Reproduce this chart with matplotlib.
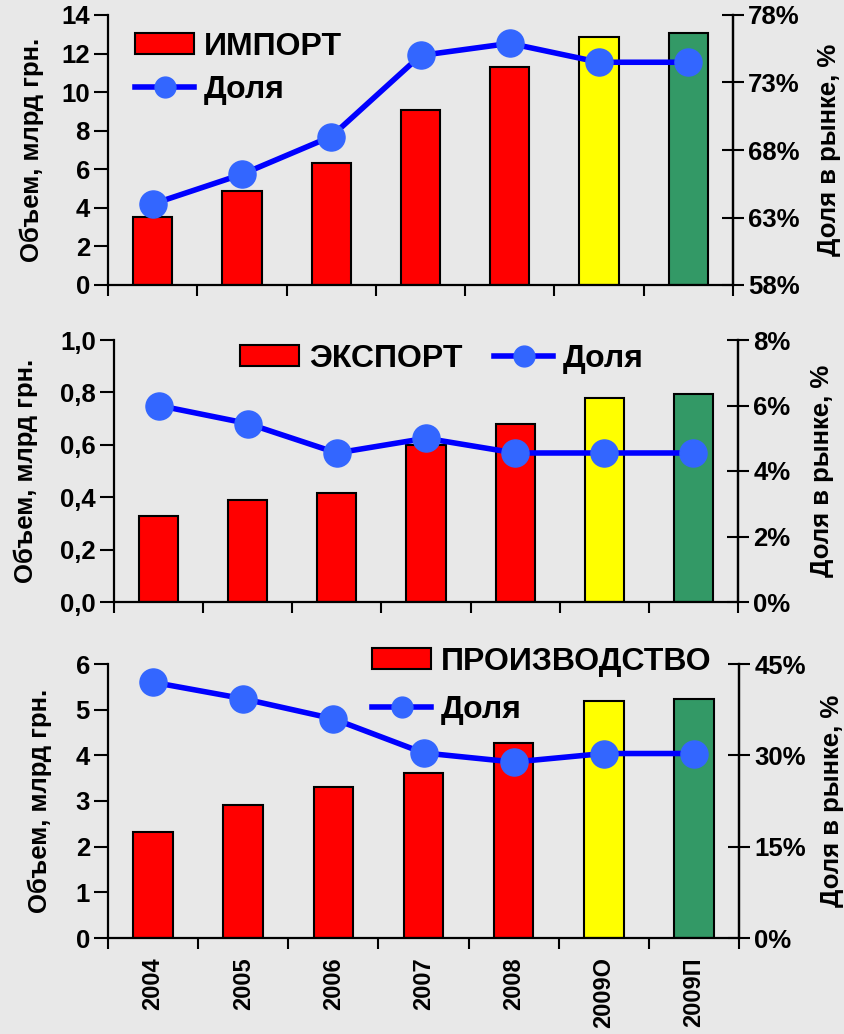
import matplotlib
matplotlib.use("Agg")
import matplotlib.pyplot as plt
from matplotlib.ticker import FixedLocator, FuncFormatter
from matplotlib.lines import Line2D
from matplotlib.patches import Patch

plt.rcParams['font.family'] = ['Liberation Sans', 'DejaVu Sans']
plt.rcParams['font.weight'] = 'bold'

years = ['2004', '2005', '2006', '2007', '2008', '2009О', '2009П']
bar_colors = ['#ff0000', '#ff0000', '#ff0000', '#ff0000', '#ff0000', '#ffff00', '#339966']

import_vol = [3.5, 4.85, 6.3, 9.05, 11.3, 12.85, 13.05]
import_share = [64.0, 66.2, 69.0, 75.0, 75.9, 74.5, 74.5]

export_vol = [0.33, 0.39, 0.415, 0.60, 0.68, 0.78, 0.795]
export_share = [6.0, 5.45, 4.55, 5.0, 4.55, 4.55, 4.55]

prod_vol = [2.33, 2.91, 3.31, 3.61, 4.27, 5.19, 5.23]
prod_share = [42.0, 39.3, 36.0, 30.4, 28.9, 30.3, 30.3]

W, H = 845, 1034
fig = plt.figure(figsize=(W / 100, H / 100), dpi=100)
fig.patch.set_facecolor('#e8e8e8')


def px_axes(l, r, t, b):
    return fig.add_axes([l / W, 1 - b / H, (r - l) / W, (b - t) / H])


TICK_FS = 18.5
XTICK_FS = 17
LABEL_FS = 18.5
LEG_FS = 23


def panel(rect, vols, shares, ylim, yticks, yfmt, y2lim, y2ticks, y2fmt,
          name, leg_kw, show_x, lab_x):
    ax = px_axes(*rect)
    ax.set_facecolor('none')
    x = list(range(len(years)))
    ax.bar(x, vols, width=0.44, color=bar_colors, edgecolor='black',
           linewidth=1.5, zorder=2)
    ax.set_xlim(-0.5, len(years) - 0.5)
    ax.set_ylim(*ylim)
    ax.yaxis.set_major_locator(FixedLocator(yticks))
    ax.yaxis.set_major_formatter(FuncFormatter(yfmt))
    ax.spines['top'].set_visible(False)
    for s in ['left', 'bottom', 'right']:
        ax.spines[s].set_linewidth(1.6)
    ax.tick_params(axis='y', direction='out', length=10, width=1.5,
                   labelsize=TICK_FS, pad=3)
    ax.xaxis.set_minor_locator(FixedLocator([i - 0.5 for i in range(len(years) + 1)]))
    ax.xaxis.set_major_locator(FixedLocator(x))
    ax.tick_params(axis='x', which='minor', direction='out', length=8, width=1.5)
    ax.tick_params(axis='x', which='major', length=0, labelsize=XTICK_FS, pad=14)
    if show_x:
        ax.set_xticklabels(years, rotation=90)
    else:
        ax.set_xticklabels([])

    ax2 = ax.twinx()
    ax2.set_facecolor('none')
    ax2.plot(x, shares, color='#0000ff', linewidth=4, marker='o',
             markersize=19.5, markerfacecolor='#3366ff',
             markeredgecolor='#3366ff', zorder=3)
    ax2.set_ylim(*y2lim)
    ax2.yaxis.set_major_locator(FixedLocator(y2ticks))
    ax2.yaxis.set_major_formatter(FuncFormatter(y2fmt))
    ax2.spines['top'].set_visible(False)
    ax2.spines['right'].set_linewidth(1.6)
    ax2.spines['left'].set_visible(False)
    ax2.spines['bottom'].set_visible(False)
    ax2.tick_params(axis='y', direction='inout', length=16, width=1.5,
                    labelsize=TICK_FS, pad=3)

    l, r, t, b = rect
    yc = 1 - ((t + b) / 2) / H
    fig.text(lab_x[0] / W, yc, 'Объем, млрд грн.', rotation=90,
             ha='center', va='center', fontsize=LABEL_FS, fontweight='bold')
    fig.text(lab_x[1] / W, yc, 'Доля в рынке, %', rotation=90,
             ha='center', va='center', fontsize=LABEL_FS, fontweight='bold')

    handles = [Patch(facecolor='#ff0000', edgecolor='black', linewidth=1.5),
               Line2D([0], [0], color='#0000ff', linewidth=4, marker='o',
                      markersize=15, markerfacecolor='#3366ff',
                      markeredgecolor='#3366ff')]
    ax2.legend(handles, [name, 'Доля'], frameon=False,
               prop={'size': LEG_FS, 'weight': 'bold'},
               handlelength=1.85, handleheight=0.65, handletextpad=0.3,
               borderpad=0, borderaxespad=0, **leg_kw)
    return ax, ax2


def fmt_int(v, p):
    return f'{v:.0f}'


def fmt_dec(v, p):
    return f'{v:.1f}'.replace('.', ',')


def fmt_pct(v, p):
    return f'{v:.0f}%'


panel((108, 733, 15, 285), import_vol, import_share,
      (0, 14), [0, 2, 4, 6, 8, 10, 12, 14], fmt_int,
      (58, 78), [58, 63, 68, 73, 78], fmt_pct,
      'ИМПОРТ',
      dict(loc='upper left', bbox_to_anchor=(135 / W, 1 - 32 / H),
           bbox_transform=fig.transFigure, labelspacing=0.4, ncol=1),
      False, (32, 829))

panel((114, 738, 340, 602), export_vol, export_share,
      (0, 1.0), [0, 0.2, 0.4, 0.6, 0.8, 1.0], fmt_dec,
      (0, 8), [0, 2, 4, 6, 8], fmt_pct,
      'ЭКСПОРТ',
      dict(loc='upper left', bbox_to_anchor=(240 / W, 1 - 344 / H),
           bbox_transform=fig.transFigure, ncol=2, columnspacing=1.0),
      False, (26, 822))

panel((108, 739, 664, 938), prod_vol, prod_share,
      (0, 6), [0, 1, 2, 3, 4, 5, 6], fmt_int,
      (0, 45), [0, 15, 30, 45], fmt_pct,
      'ПРОИЗВОДСТВО',
      dict(loc='upper left', bbox_to_anchor=(372 / W, 1 - 647 / H),
           bbox_transform=fig.transFigure, labelspacing=0.55, ncol=1),
      True, (40, 832))

fig.savefig('out.png', dpi=100, facecolor=fig.get_facecolor())
